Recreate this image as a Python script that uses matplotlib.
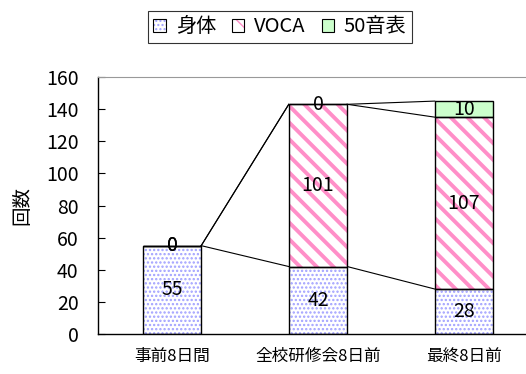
import numpy as np
import matplotlib
matplotlib.use("Agg")
import matplotlib.pyplot as plt
from matplotlib.patches import Patch

plt.rcParams['font.family'] = ['Noto Sans CJK JP', 'DejaVu Sans']

categories = ["事前8日間", "全校研修会8日前", "最終8日前"]
series_names = ["身体", "VOCA", "50音表"]
karada = [55, 42, 28]
voca = [0, 101, 107]
onhyo = [0, 0, 10]

# fill style per series: (hatch, hatch colour, face colour)
styles = [
    ("....", "#a0a0ff", "white"),
    ("\\\\", "#ff8fc8", "white"),
    (None, None, "#ccffcc"),
]
hatch_lw = [1.1, 2.8, 1.0]

fig = plt.figure(figsize=(5.26, 3.74), dpi=100)
ax = fig.add_axes([98 / 526, 40 / 374, 1 - 98 / 526, 257 / 374])

x = np.arange(len(categories))
w = 0.40
values = [karada, voca, onhyo]
bottom = np.zeros(len(categories))
tops = []
for s, vals in enumerate(values):
    vals = np.array(vals, dtype=float)
    hatch, hcol, face = styles[s]
    with plt.rc_context({'hatch.linewidth': hatch_lw[s]}):
        if hatch:
            ax.bar(x, vals, w, bottom=bottom, color=face, edgecolor=hcol,
                   hatch=hatch, linewidth=0, zorder=2)
        else:
            ax.bar(x, vals, w, bottom=bottom, color=face, linewidth=0, zorder=2)
    ax.bar(x, vals, w, bottom=bottom, fill=False, edgecolor="black",
           linewidth=1.0, zorder=3)
    for i in range(len(x)):
        ax.text(x[i], bottom[i] + vals[i] / 2, f"{int(vals[i])}", ha="center",
                va="center", fontsize=14, zorder=4)
    bottom = bottom + vals
    tops.append(bottom.copy())

# series lines between neighbouring bars
for top in tops:
    for i in range(len(x) - 1):
        ax.plot([x[i] + w / 2, x[i + 1] - w / 2], [top[i], top[i + 1]],
                color="black", linewidth=0.8, zorder=1)

ax.set_xlim(-0.507, 2.425)
ax.set_ylim(0, 160)
ax.set_yticks(np.arange(0, 161, 20))
ax.set_xticks(x)
ax.set_xticklabels(categories, fontsize=12)
ax.tick_params(axis="x", length=0, pad=10)
ax.tick_params(axis="y", direction="in", length=5, pad=14, labelsize=14)
ax.set_ylabel("回数", fontsize=14, labelpad=10)
ax.spines["right"].set_visible(False)
ax.spines["top"].set_color("#999999")
ax.spines["left"].set_linewidth(1.0)
ax.spines["bottom"].set_linewidth(1.0)

handles = []
for s in range(3):
    hatch, hcol, face = styles[s]
    if hatch:
        fill = Patch(facecolor=face, edgecolor=hcol, hatch=hatch, linewidth=0)
    else:
        fill = Patch(facecolor=face, linewidth=0)
    handles.append((fill, Patch(fill=False, edgecolor="black", linewidth=0.8)))
leg = fig.legend(handles, series_names, loc="center", ncol=3,
                 bbox_to_anchor=(280 / 526, 1 - 27 / 374), fontsize=14.5,
                 frameon=True, fancybox=False, edgecolor="black",
                 handlelength=0.6, handleheight=0.6, handletextpad=0.5,
                 columnspacing=0.8, borderpad=0.25)
leg.get_frame().set_linewidth(0.8)

fig.savefig("out.png", dpi=100)
